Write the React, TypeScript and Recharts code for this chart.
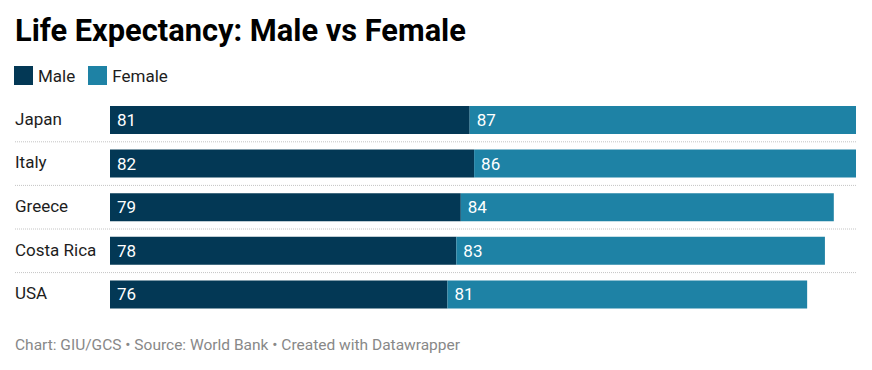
import { BarChart, Bar, XAxis, YAxis, LabelList } from 'recharts';

const countries = ['Japan', 'Italy', 'Greece', 'Costa Rica', 'USA'];
const maleValues = [81, 82, 79, 78, 76];
const femaleValues = [87, 86, 84, 83, 81];

const MALE_COLOR = '#033855';
const FEMALE_COLOR = '#1e82a5';
const FONT = 'Roboto, "Noto Sans", sans-serif';

const chartData = countries.map((country, i) => ({
  country,
  male: maleValues[i],
  female: femaleValues[i],
}));

// category label plus a dotted divider under each row except the last
const CountryTick = ({ y, payload, index }: any) => {
  return (
    <g>
      <text x={15} y={y} dy={5} fill="#1d1d1d" fontSize={17} fontFamily={FONT} textAnchor="start">
        {payload.value}
      </text>
      {index < countries.length - 1 && (
        <line x1={15} x2={856} y1={y + 22} y2={y + 22} stroke="#c4c4c4" strokeDasharray="1 1" />
      )}
    </g>
  );
};

export default function App() {
  return (
    <div
      style={{
        position: 'absolute',
        left: 0,
        top: 0,
        width: 872,
        height: 370,
        background: '#fff',
        fontFamily: FONT,
        overflow: 'hidden',
      }}
    >
      <div style={{ position: 'absolute', left: 15, top: 13, fontSize: 30.8, fontWeight: 700, color: '#000', lineHeight: '36px', whiteSpace: 'nowrap' }}>
        Life Expectancy: Male vs Female
      </div>
      <div style={{ position: 'absolute', left: 14, top: 66, display: 'flex', alignItems: 'center', fontSize: 17, color: '#1d1d1d', height: 19 }}>
        <span style={{ width: 19, height: 19, background: MALE_COLOR, display: 'inline-block' }} />
        <span style={{ marginLeft: 5 }}>Male</span>
        <span style={{ width: 19, height: 19, background: FEMALE_COLOR, display: 'inline-block', marginLeft: 13 }} />
        <span style={{ marginLeft: 5 }}>Female</span>
      </div>
      <div style={{ position: 'absolute', left: 0, top: 0 }}>
        <BarChart
          width={872}
          height={370}
          data={chartData}
          layout="vertical"
          margin={{ top: 98, right: 16, bottom: 54, left: 0 }}
          barSize={28}
        >
          <XAxis type="number" domain={[0, 168]} hide />
          <YAxis
            type="category"
            dataKey="country"
            width={110}
            axisLine={false}
            tickLine={false}
            tick={<CountryTick />}
            interval={0}
          />
          <Bar dataKey="male" stackId="a" fill={MALE_COLOR} isAnimationActive={false}>
            <LabelList dataKey="male" position="insideLeft" offset={7} fill="#fff" fontSize={17} fontFamily={FONT} />
          </Bar>
          <Bar dataKey="female" stackId="a" fill={FEMALE_COLOR} isAnimationActive={false}>
            <LabelList dataKey="female" position="insideLeft" offset={7} fill="#fff" fontSize={17} fontFamily={FONT} />
          </Bar>
        </BarChart>
      </div>
      <div style={{ position: 'absolute', left: 15, top: 336, fontSize: 15.5, color: '#888', whiteSpace: 'nowrap' }}>
        Chart: GIU/GCS • Source: World Bank • Created with Datawrapper
      </div>
    </div>
  );
}
